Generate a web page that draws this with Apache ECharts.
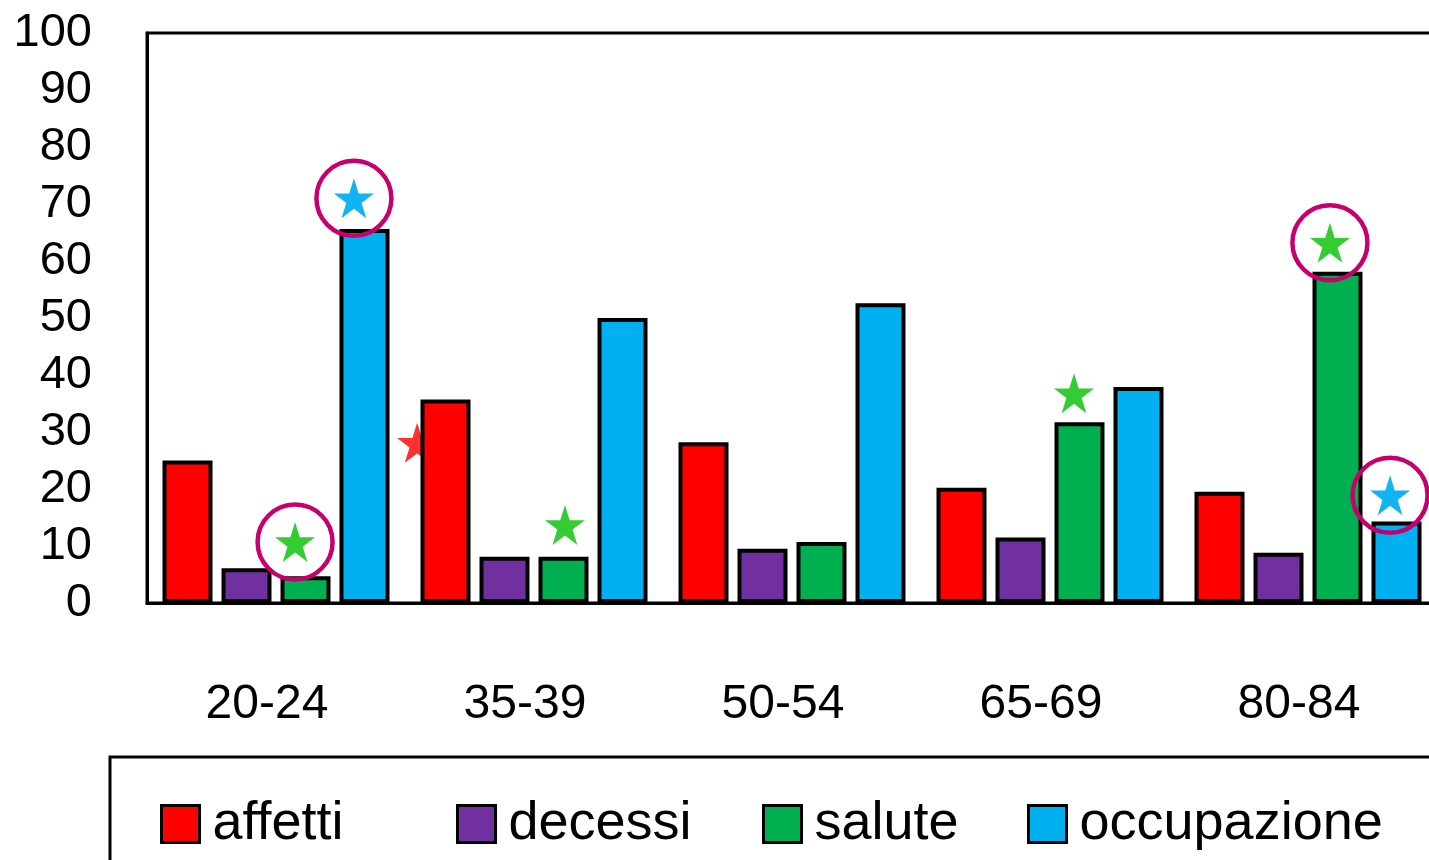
<!DOCTYPE html>
<html>
<head>
<meta charset="utf-8">
<script src="https://cdn.jsdelivr.net/npm/echarts@6/dist/echarts.min.js"></script>
<style>html,body{margin:0;padding:0;background:#fff;}#c{width:1429px;height:860px;}</style>
</head>
<body>
<div id="c"></div>
<script>
var categories = ['20-24', '35-39', '50-54', '65-69', '80-84'];
var seriesNames = ['affetti', 'decessi', 'salute', 'occupazione'];
var affetti = [25.0, 35.7, 28.2, 20.2, 19.5];
var decessi = [6.1, 8.1, 9.5, 11.5, 8.8];
var salute = [4.7, 8.1, 10.7, 31.7, 58.1];
var occupazione = [65.6, 50.0, 52.6, 37.9, 14.3];
var yTicks = [0, 10, 20, 30, 40, 50, 60, 70, 80, 90, 100];
// stars: [x in category units (group index + fraction), value]
var starsAffetti = [[1.047, 28.1]];
var starsSalute = [[0.574, 10.7], [1.620, 13.7], [3.593, 36.8], [4.585, 63.2]];
var starsOccupazione = [[0.802, 71.0], [4.818, 18.9]];
// circled stars
var circled = [[0.574, 10.7], [0.802, 71.0], [4.585, 63.2], [4.818, 18.9]];

var colors = {affetti: '#ff0000', decessi: '#7030a0', salute: '#00b050', occupazione: '#00b0f0'};
var FONT = "'Comic Sans MS', 'Liberation Sans', sans-serif";
var STAR = 'path://M50,0 L61.8,36.2 L100,36.2 L69.1,58.6 L80.9,95 L50,72.6 L19.1,95 L30.9,58.6 L0,36.2 L38.2,36.2 Z';

var chart = echarts.init(document.getElementById('c'), null, {renderer: 'canvas'});

function barSeries(name, data) {
  return {
    name: name, type: 'bar', data: data, barWidth: 50, barGap: '18%', z: 3,
    itemStyle: {color: colors[name], borderColor: '#000', borderWidth: 4}
  };
}
function starSeries(data, color, z, opacity) {
  return {
    type: 'scatter', xAxisIndex: 1, data: data, symbol: STAR, symbolSize: 40, z: z,
    itemStyle: {color: color, opacity: opacity}, silent: true
  };
}
var legendLefts = [155, 451, 757, 1022];
var legends = seriesNames.map(function (n, i) {
  return {
    data: [n], left: legendLefts[i], top: 792, itemWidth: 38, itemHeight: 37,
    selectedMode: false, icon: 'rect',
    itemStyle: {borderColor: '#000', borderWidth: 3},
    textStyle: {fontSize: 54, fontFamily: FONT, color: '#000', padding: [0, 0, 0, 8]}
  };
});

chart.setOption({
  animation: false,
  backgroundColor: '#fff',
  legend: legends,
  grid: {left: 147, top: 33, width: 1290, height: 570, show: true, borderColor: '#000', borderWidth: 3, containLabel: false, outerBoundsMode: 'none'},
  xAxis: [{
    type: 'category', data: categories,
    axisLine: {lineStyle: {color: '#000', width: 3}},
    axisTick: {show: false},
    axisLabel: {fontSize: 48, fontFamily: FONT, color: '#000', margin: 78, padding: [0, 18, 0, 0]},
    splitLine: {show: false}
  }, {
    type: 'value', min: 0, max: 5, show: false, splitLine: {show: false}
  }],
  yAxis: {
    type: 'value', min: yTicks[0], max: yTicks[yTicks.length - 1], interval: 10,
    axisLine: {show: true, lineStyle: {color: '#000', width: 3}},
    axisTick: {show: false},
    splitLine: {show: false},
    axisLabel: {fontSize: 47, fontFamily: FONT, color: '#000', margin: 55}
  },
  graphic: [{
    type: 'rect', shape: {x: 110, y: 757, width: 1400, height: 200},
    style: {fill: 'none', stroke: '#000', lineWidth: 3}, z: 0
  }],
  series: [
    barSeries('affetti', affetti),
    barSeries('decessi', decessi),
    barSeries('salute', salute),
    barSeries('occupazione', occupazione),
    starSeries(starsAffetti, '#ff1a1a', 1, 0.9),
    starSeries(starsSalute, '#33cc33', 4, 1),
    starSeries(starsOccupazione, '#0fb4f0', 4, 1),
    {
      type: 'scatter', xAxisIndex: 1, data: circled, symbol: 'circle', symbolSize: 75, z: 5, silent: true,
      itemStyle: {color: 'rgba(0,0,0,0)', borderColor: '#c8006e', borderWidth: 4.5, opacity: 1}
    }
  ]
});
</script>
</body>
</html>
